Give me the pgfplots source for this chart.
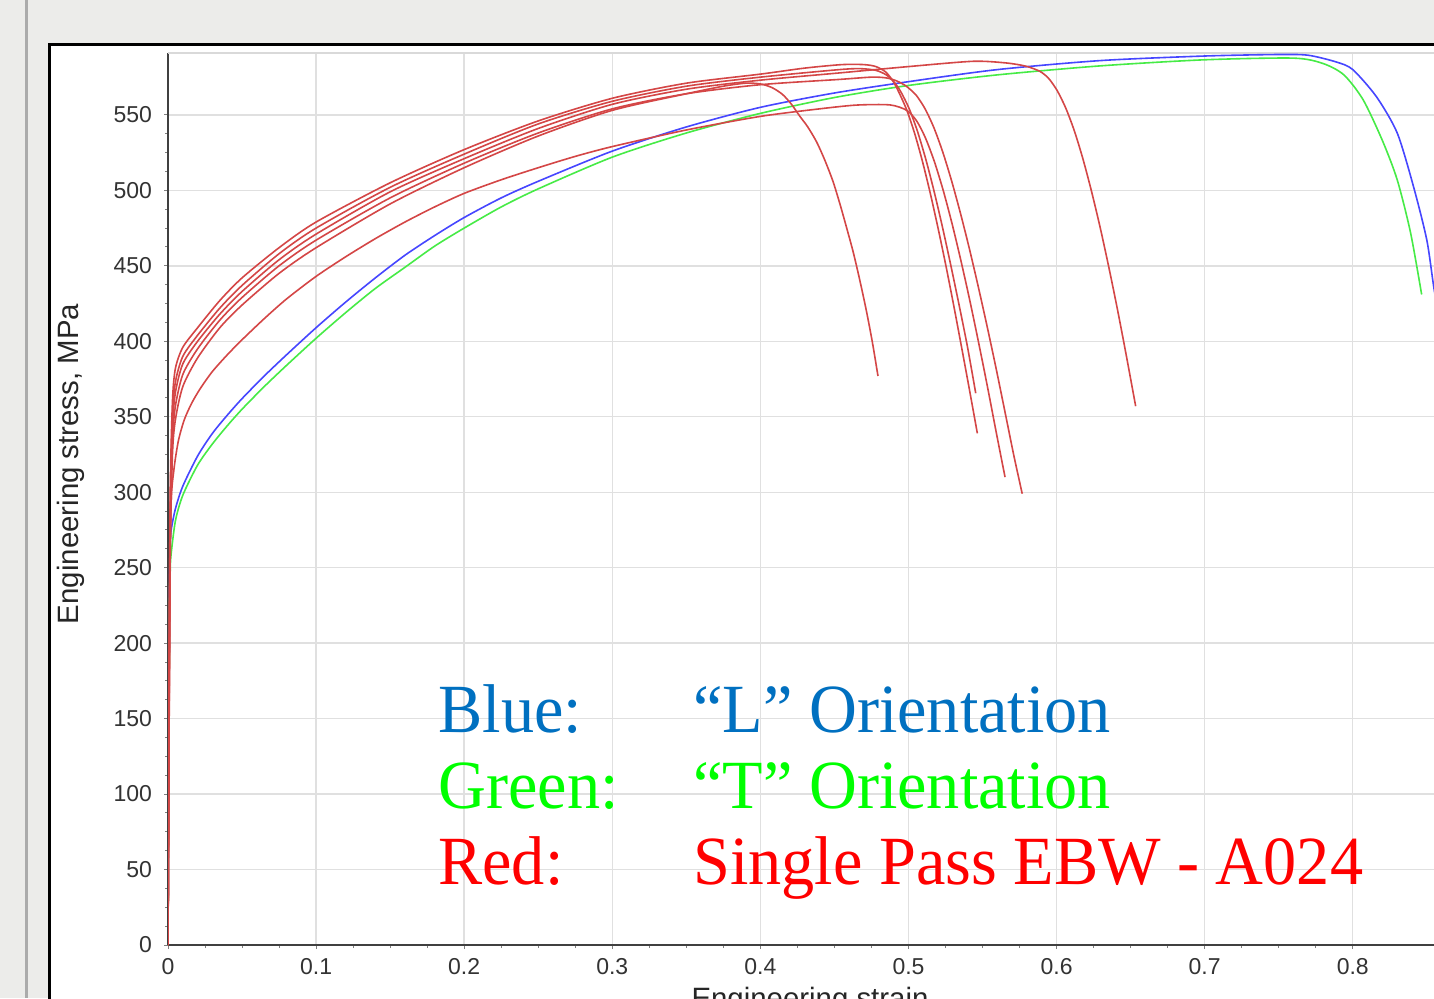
\documentclass[border=0pt]{standalone}
\usepackage{fontspec}
\setmainfont{Liberation Serif}
\newfontfamily\arial{Liberation Sans}
\usepackage{graphicx}
\usepackage{pgfplots}
\pgfplotsset{compat=1.18}
\definecolor{bg}{RGB}{236,236,234}
\definecolor{redc}{RGB}{212,70,70}
\definecolor{bluec}{RGB}{70,70,255}
\definecolor{greenc}{RGB}{70,235,70}
\definecolor{txtblue}{RGB}{0,112,192}
\newcommand\bigtxt[1]{\scalebox{0.96}[1]{\fontsize{34.5}{40}\selectfont #1}}
\begin{document}
\begin{tikzpicture}[x=0.5pt,y=0.5pt]
\useasboundingbox (0,0) rectangle (1434,998);
\clip (0,0) rectangle (1434,998);
\fill[bg] (0,0) rectangle (1434,998);
\fill[black!33] (25,0) rectangle (28,998);
\filldraw[fill=white,draw=black,line width=1.5pt] (49.5,-20) rectangle (1470,953.5);
\begin{axis}[
  at={(84pt,26.5pt)}, anchor=south west,
  scale only axis, width=642pt, height=446pt,
  xmin=0, xmax=0.867, ymin=0, ymax=591,
  axis x line*=bottom, axis y line*=left,
  axis line style={-, draw=black!75, line width=0.9pt},
  xtick={0,0.1,0.2,0.3,0.4,0.5,0.6,0.7,0.8},
  xticklabels={0,0.1,0.2,0.3,0.4,0.5,0.6,0.7,0.8},
  ytick={0,50,100,150,200,250,300,350,400,450,500,550},
  yticklabels={0,50,100,150,200,250,300,350,400,450,500,550},
  minor x tick num=3, minor y tick num=3,
  tick align=outside,
  major tick length=2pt, minor tick length=1.5pt,
  tick style={black!50, line width=0.5pt},
  grid=major, major grid style={black!12, line width=0.7pt},
  tick label style={font=\arial\fontsize{11.5}{12}\selectfont, text=black!80},
  xticklabel style={yshift=-1pt},
  yticklabel style={xshift=-2.5pt},
  clip=true,
  every axis plot/.append style={line width=0.8pt, smooth, tension=0.45},
]
\draw[black!15, line width=0.8pt] (rel axis cs:0,1) -- (rel axis cs:1,1);
% Blue: L orientation
\addplot[bluec] coordinates {(0,0)(0.0005,120)(0.001,232)(0.0015,262)(0.002,274)(0.005,289)(0.01,304)(0.02,324)(0.03,339)(0.04,351)(0.05,362)(0.065,377)(0.08,391)(0.1,409)(0.12,426)(0.14,442)(0.16,457)(0.18,470)(0.2,482)(0.225,495)(0.25,506)(0.3,526)(0.35,542)(0.4,555)(0.45,564.5)(0.5,572)(0.56,580)(0.63,586)(0.7,589)(0.75,590)(0.77,589.5)(0.789,585)(0.8,580)(0.816,562)(0.83,538)(0.841,502.5)(0.85,467)(0.855,434)(0.862,395)};
% Green: T orientation
\addplot[greenc] coordinates {(0,0)(0.0005,110)(0.001,225)(0.0015,248)(0.002,258)(0.005,281)(0.01,298)(0.02,318)(0.03,332)(0.04,344)(0.05,355)(0.065,370)(0.08,384)(0.1,402)(0.12,419)(0.14,435)(0.16,449)(0.18,463)(0.2,475)(0.225,489)(0.25,501)(0.3,522)(0.35,538)(0.4,551)(0.45,561.5)(0.5,569.5)(0.56,576.5)(0.63,582.5)(0.7,586.5)(0.76,587.6)(0.78,584)(0.794,576.5)(0.807,560)(0.82,533)(0.83,507)(0.839,472)(0.8465,431)};
% Red: single pass EBW
\addplot[redc] coordinates {(0,0)(0.0008,190)(0.0015,300)(0.003,360)(0.005,382)(0.01,396)(0.02,409)(0.035,427)(0.05,442)(0.075,462)(0.1,479)(0.15,505)(0.2,527)(0.25,546)(0.3,561)(0.35,571)(0.4,577)(0.43,581)(0.455,583.3)(0.47,583.3)(0.478,582)(0.4845,578.5)(0.4895,572.5)(0.4935,565)(0.4988,553.3)(0.5041,537.9)(0.5094,519.3)(0.5147,498.1)(0.52,474.8)(0.5253,449.9)(0.5306,423.4)(0.5359,395.8)(0.5412,367.7)(0.5465,339)};
\addplot[redc] coordinates {(0,0)(0.0008,180)(0.0015,290)(0.003,350)(0.005,373)(0.01,390)(0.02,404)(0.035,422)(0.05,437)(0.075,458)(0.1,475)(0.15,502)(0.2,524)(0.25,544)(0.3,559)(0.35,569)(0.4,575)(0.4534,580)(0.468,580.6)(0.478,579.5)(0.485,576.5)(0.4905,571.5)(0.495,565)(0.5006,553.8)(0.5062,538.7)(0.5118,520.2)(0.5174,498.9)(0.523,475.4)(0.5286,450.2)(0.5342,423.9)(0.5398,396.5)(0.5454,365.6)};
\addplot[redc] coordinates {(0,0)(0.0008,170)(0.0015,280)(0.003,342)(0.005,366)(0.01,385)(0.02,400)(0.035,418)(0.05,433)(0.075,454)(0.1,471)(0.15,499)(0.2,521)(0.25,541)(0.3,557)(0.35,567)(0.4,573)(0.4534,577.8)(0.5,582)(0.5435,585.5)(0.566,584.4)(0.5795,582.2)(0.5888,578.8)(0.5946,574.2)(0.6004,566.1)(0.6062,554.5)(0.612,539.4)(0.6178,520.8)(0.6236,499.3)(0.6294,475.5)(0.6352,449.4)(0.641,421.6)(0.6468,392)(0.6534,357)};
\addplot[redc] coordinates {(0,0)(0.0008,160)(0.0015,270)(0.003,333)(0.005,357)(0.01,378)(0.02,395)(0.035,414)(0.05,429)(0.075,450)(0.1,467)(0.15,495)(0.2,518)(0.25,538)(0.3,554)(0.35,564)(0.4,570)(0.4534,573.5)(0.475,575)(0.485,574.5)(0.492,572.5)(0.4985,569)(0.5052,563)(0.5112,554)(0.5172,541.4)(0.5232,525.2)(0.5292,506)(0.5352,484.4)(0.5412,461)(0.5472,435.8)(0.5532,409.4)(0.5592,381.8)(0.5652,353)(0.5712,324)(0.5768,299)};
\addplot[redc] coordinates {(0,0)(0.0008,150)(0.0015,260)(0.003,325)(0.005,348)(0.01,370)(0.02,389)(0.035,409)(0.05,424)(0.075,445)(0.1,462)(0.15,491)(0.2,515)(0.25,536)(0.3,553)(0.35,564)(0.375,569)(0.39,571)(0.4,570.5)(0.408,568)(0.415,563.5)(0.421,557)(0.4267,549)(0.432,542)(0.438,532)(0.4435,520)(0.449,506)(0.4537,491)(0.458,476)(0.4627,459)(0.467,441)(0.4714,421)(0.4755,400)(0.4794,377)};
\addplot[redc] coordinates {(0,0)(0.001,200)(0.002,290)(0.004,315)(0.007,334)(0.011,348)(0.016,359)(0.022,369)(0.03,380)(0.04,391)(0.05,401)(0.065,415)(0.08,428)(0.1,443)(0.12,456)(0.14,468)(0.16,479)(0.18,489)(0.2,498)(0.225,507)(0.25,515)(0.275,522.5)(0.3,529)(0.35,540)(0.4,549)(0.44,554)(0.465,556.5)(0.4875,556.6)(0.4988,553)(0.5055,546)(0.5115,534.6)(0.5175,519)(0.5235,499.8)(0.5295,477.6)(0.5355,453)(0.5415,426.6)(0.5475,398.4)(0.5535,369)(0.5595,338.4)(0.5652,310)};
\end{axis}
% axis labels
\node[rotate=90, anchor=north, inner sep=0pt, font=\arial\fontsize{14.7}{16}\selectfont, text=black!85] at (57,534) {Engineering stress, MPa};
\node[anchor=north, inner sep=0pt, font=\arial\fontsize{14.7}{16}\selectfont, text=black!85] at (810,11.5) {Engineering strain};
% annotation text
\node[anchor=base west, inner sep=0pt, text=txtblue] at (438,266) {\bigtxt{Blue:}};
\node[anchor=base west, inner sep=0pt, text=txtblue] at (693,266) {\bigtxt{“L” Orientation}};
\node[anchor=base west, inner sep=0pt, text={rgb,255:red,0;green,255;blue,0}] at (438,190) {\bigtxt{Green:}};
\node[anchor=base west, inner sep=0pt, text={rgb,255:red,0;green,255;blue,0}] at (693,190) {\bigtxt{“T” Orientation}};
\node[anchor=base west, inner sep=0pt, text={rgb,255:red,255;green,0;blue,0}] at (438,114) {\bigtxt{Red:}};
\node[anchor=base west, inner sep=0pt, text={rgb,255:red,255;green,0;blue,0}] at (693,114) {\bigtxt{Single Pass EBW - A024}};
\end{tikzpicture}
\end{document}
